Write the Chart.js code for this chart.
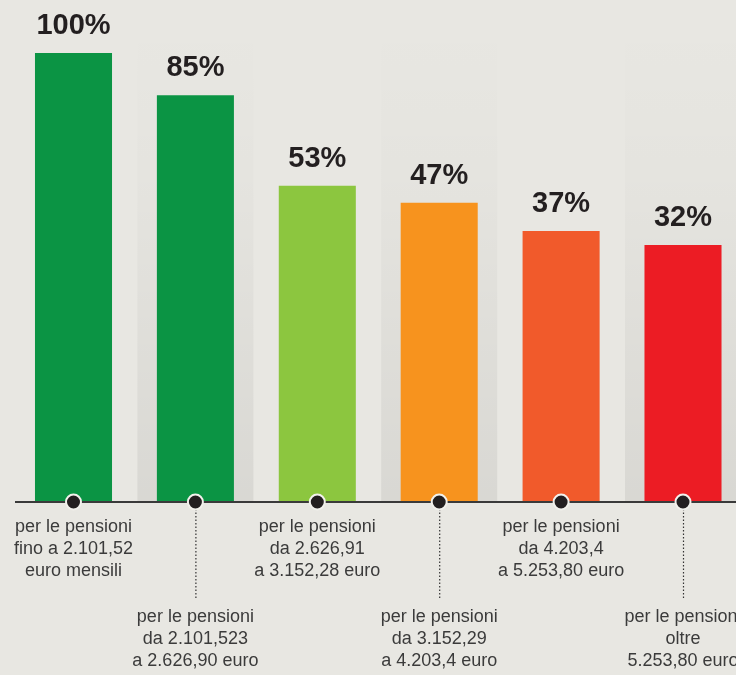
<!DOCTYPE html>
<html><head><meta charset="utf-8">
<script src="https://cdn.jsdelivr.net/npm/chart.js@4/dist/chart.umd.min.js"></script>
<style>html,body{margin:0;padding:0;background:#e8e7e2;overflow:hidden}#wrap{width:736px;height:675px}</style>
</head><body><div id="wrap"><canvas id="c" width="736" height="675"></canvas></div>
<script>
const categories = [
  ["per le pensioni", "fino a 2.101,52", "euro mensili"],
  ["per le pensioni", "da 2.101,523", "a 2.626,90 euro"],
  ["per le pensioni", "da 2.626,91", "a 3.152,28 euro"],
  ["per le pensioni", "da 3.152,29", "a 4.203,4 euro"],
  ["per le pensioni", "da 4.203,4", "a 5.253,80 euro"],
  ["per le pensioni", "oltre", "5.253,80 euro"]
];
const values = [100, 85, 53, 47, 37, 32];
const valueLabels = ["100%", "85%", "53%", "47%", "37%", "32%"];
const barColors = ["#0b9444", "#0b9444", "#8cc63f", "#f7931e", "#f15a2b", "#ec1c24"];
const axisMin = -59;
const axisMax = 100;

const BG = "#e8e7e2";

const decor = {
  id: "decor",
  beforeDraw(chart) {
    const ctx = chart.ctx;
    const x = chart.scales.x, y = chart.scales.y;
    const base = y.getPixelForValue(axisMin);
    ctx.save();
    ctx.fillStyle = BG;
    ctx.fillRect(0, 0, chart.width, chart.height);
    categories.forEach((c, i) => {
      if (i % 2 === 1) {
        const cx = x.getPixelForValue(i);
        const g = ctx.createLinearGradient(0, 20, 0, base);
        g.addColorStop(0, "rgba(0,0,0,0.0)");
        g.addColorStop(0.35, "rgba(0,0,0,0.015)");
        g.addColorStop(1, "rgba(0,0,0,0.065)");
        ctx.fillStyle = g;
        ctx.fillRect(cx - 58, 20, 116, base - 20);
      }
    });
    ctx.restore();
  },
  afterDatasetsDraw(chart) {
    const ctx = chart.ctx;
    const x = chart.scales.x, y = chart.scales.y;
    const base = y.getPixelForValue(axisMin);
    const meta = chart.getDatasetMeta(0);
    ctx.save();
    ctx.strokeStyle = "#3a3a3a";
    ctx.lineWidth = 2;
    ctx.beginPath();
    ctx.moveTo(15, base);
    ctx.lineTo(chart.width, base);
    ctx.stroke();
    categories.forEach((lines, i) => {
      const cx = x.getPixelForValue(i);
      const low = i % 2 === 1;
      if (low) {
        ctx.strokeStyle = "#333";
        ctx.lineWidth = 1.2;
        ctx.setLineDash([1.5, 2]);
        ctx.beginPath();
        ctx.moveTo(cx + 0.5, base + 7);
        ctx.lineTo(cx + 0.5, base + 96);
        ctx.stroke();
        ctx.setLineDash([]);
      }
      ctx.beginPath();
      ctx.arc(cx, base, 7.5, 0, Math.PI * 2);
      ctx.fillStyle = "#231f20";
      ctx.fill();
      ctx.lineWidth = 2;
      ctx.strokeStyle = "#f2f1ec";
      ctx.stroke();
      ctx.fillStyle = "#3b3b3b";
      ctx.font = '18px "Liberation Sans", Arial, sans-serif';
      ctx.textAlign = "center";
      ctx.textBaseline = "alphabetic";
      const first = low ? base + 120 : base + 30;
      lines.forEach((t, k) => ctx.fillText(t, cx, first + k * 22));
    });
    ctx.fillStyle = "#231f20";
    ctx.font = '700 29px "Liberation Sans", Arial, sans-serif';
    ctx.textAlign = "center";
    meta.data.forEach((bar, i) => {
      ctx.fillText(valueLabels[i], bar.x, bar.y - 19);
    });
    ctx.restore();
  }
};

new Chart(document.getElementById("c"), {
  type: "bar",
  data: {
    labels: categories,
    datasets: [{
      data: values,
      base: axisMin,
      backgroundColor: barColors,
      borderWidth: 0,
      categoryPercentage: 1,
      barPercentage: 0.632,
      clip: false
    }]
  },
  options: {
    responsive: false,
    animation: false,
    devicePixelRatio: 1,
    layout: { padding: { left: 73.5, right: 53, top: 53, bottom: 173 } },
    plugins: { legend: { display: false }, tooltip: { enabled: false } },
    scales: {
      x: { type: "category", offset: false, display: false },
      y: { display: false, min: axisMin, max: axisMax }
    }
  },
  plugins: [decor]
});
</script>
</body></html>
